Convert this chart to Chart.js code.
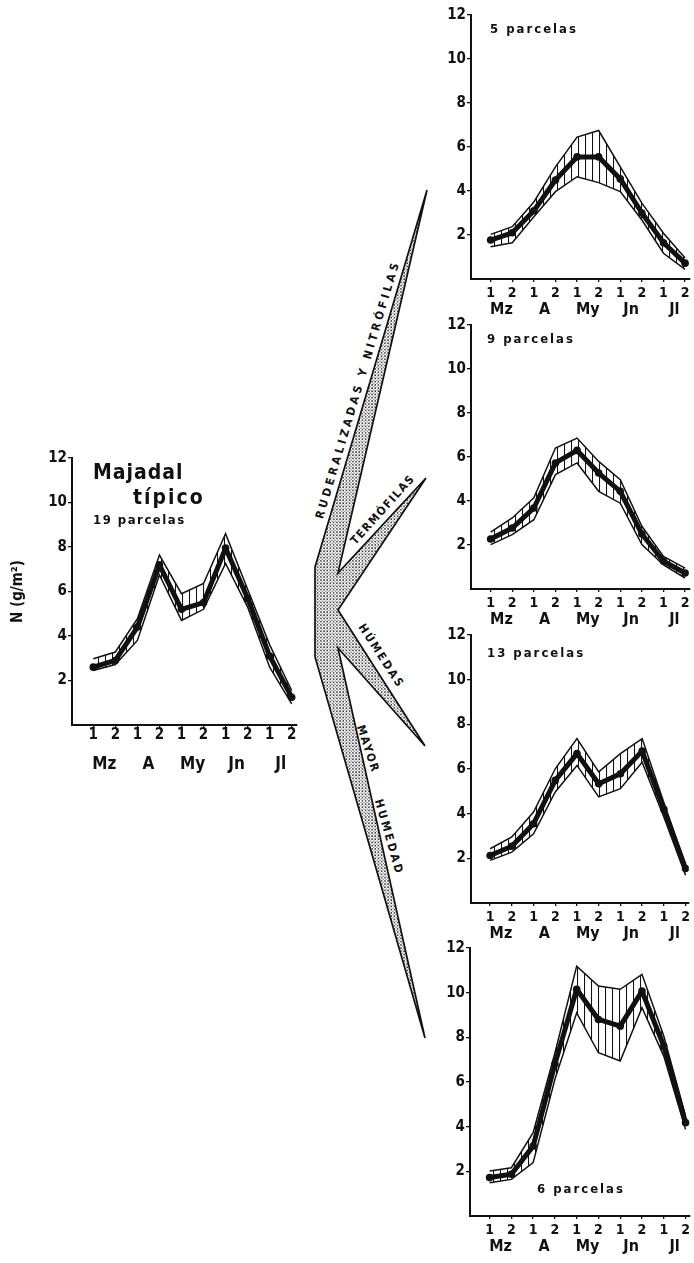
<!DOCTYPE html>
<html><head><meta charset="utf-8">
<script src="https://cdn.jsdelivr.net/npm/chart.js@4.4.0/dist/chart.umd.min.js"></script>
<style>
html,body{margin:0;padding:0;background:#fff;}
body{width:694px;height:1263px;position:relative;overflow:hidden;font-family:"DejaVu Sans Condensed","DejaVu Sans",sans-serif;}
canvas.cv{position:absolute;}
.lbl{position:absolute;font-weight:bold;color:#111;white-space:nowrap;line-height:1;transform:translateY(-50%);}
svg#branch{position:absolute;left:0;top:0;}
</style></head><body>

<svg id="branch" width="694" height="1263" viewBox="0 0 694 1263">
  <defs>
    <pattern id="dots" width="3.2" height="3.2" patternUnits="userSpaceOnUse">
      <circle cx="0.9" cy="0.9" r="0.8" fill="#222"/>
      <circle cx="2.5" cy="2.5" r="0.6" fill="#444"/>
    </pattern>
  </defs>
  <polygon points="315,567 427,190 338,573 426,478 338,610 425,746 338,648 425,1038 315,657"
    fill="url(#dots)" stroke="#111" stroke-width="1.7" stroke-linejoin="miter"/>
  <g font-family="DejaVu Sans Condensed, DejaVu Sans, sans-serif" font-weight="bold" font-size="11.5" fill="#111">
    <text x="357" y="391" transform="rotate(-73.4 357 391)" text-anchor="middle" dominant-baseline="central" textLength="266" lengthAdjust="spacing">RUDERALIZADAS Y NITRÓFILAS</text>
    <text x="382" y="510" transform="rotate(-48 382 510)" text-anchor="middle" dominant-baseline="central" textLength="88" lengthAdjust="spacing">TERMÓFILAS</text>
    <text x="381" y="655" transform="rotate(57 381 655)" text-anchor="middle" dominant-baseline="central" textLength="72" lengthAdjust="spacing">HÚMEDAS</text>
    <text x="368" y="748" transform="rotate(72 368 748)" text-anchor="middle" dominant-baseline="central" textLength="48" lengthAdjust="spacing">MAYOR</text>
    <text x="389" y="836" transform="rotate(74 389 836)" text-anchor="middle" dominant-baseline="central" textLength="76" lengthAdjust="spacing">HUMEDAD</text>
  </g>
</svg>

<canvas id="cTyp" class="cv" width="310" height="338" style="left:0;top:443px"></canvas>
<canvas id="cRud" class="cv" width="284" height="323" style="left:410px;top:0"></canvas>
<canvas id="cTer" class="cv" width="284" height="323" style="left:410px;top:310px"></canvas>
<canvas id="cHum" class="cv" width="284" height="327" style="left:410px;top:620px"></canvas>
<canvas id="cMay" class="cv" width="285" height="327" style="left:409px;top:933px"></canvas>

<div class="lbl" style="left:93px;top:472px;font-size:21px;letter-spacing:1px">Majadal</div>
<div class="lbl" style="left:133px;top:497px;font-size:21px;letter-spacing:2px">típico</div>
<div class="lbl" style="left:93px;top:519px;font-size:13px;letter-spacing:1.5px">19 parcelas</div>
<div class="lbl" style="left:490px;top:28px;font-size:13px;letter-spacing:2px">5 parcelas</div>
<div class="lbl" style="left:487px;top:338px;font-size:13px;letter-spacing:2px">9 parcelas</div>
<div class="lbl" style="left:487px;top:652px;font-size:13px;letter-spacing:2px">13 parcelas</div>
<div class="lbl" style="left:537px;top:1188px;font-size:13px;letter-spacing:2px">6 parcelas</div>

<script>
// ---- data ----
const halfMonths = ['1','2','1','2','1','2','1','2','1','2'];
const months = ['Mz','A','My','Jn','Jl'];
const yTicks = [2,4,6,8,10,12];

// Majadal típico (19 parcelas)
const typMean  = [2.6, 2.9, 4.4, 7.2, 5.2, 5.5, 7.95, 5.7, 3.1, 1.25];
const typUpper = [2.98,3.28,4.78,7.64,5.9, 6.36,8.6, 6.1, 3.6, 1.55];
const typLower = [2.45,2.72,3.8, 6.74,4.7, 5.2, 7.26,5.3, 2.6, 0.95];

// Ruderalizadas y nitrófilas (5 parcelas)
const rudMean  = [1.77,2.1, 3.1, 4.5, 5.55,5.55,4.55,3.0, 1.65,0.72];
const rudUpper = [2.03,2.38,3.5, 5.1, 6.45,6.75,5.1, 3.45,2.08,0.95];
const rudLower = [1.47,1.65,2.83,3.97,4.65,4.38,3.97,2.68,1.17,0.44];

// Termófilas (9 parcelas)
const terMean  = [2.27,2.77,3.68,5.73,6.3, 5.27,4.44,2.5, 1.26,0.73];
const terUpper = [2.58,3.23,4.14,6.41,6.86,5.8, 4.97,2.85,1.48,0.95];
const terLower = [2.02,2.47,3.15,5.2, 5.73,4.44,3.9, 2.02,1.1, 0.5];

// Húmedas (13 parcelas)
const humMean  = [2.13,2.54,3.55,5.49,6.69,5.34,5.79,6.8, 4.2, 1.54];
const humUpper = [2.43,2.96,4.07,6.01,7.36,5.87,6.69,7.36,4.5, 1.7];
const humLower = [1.91,2.28,3.1, 4.97,6.16,4.75,5.12,6.3, 3.85,1.24];

// Mayor humedad (6 parcelas)
const mayMean  = [1.72,1.87,3.13,6.8, 10.15,8.8, 8.5, 10.07,7.61,4.18];
const mayUpper = [2.01,2.16,3.73,7.3, 11.19,10.3,10.15,10.82,8.06,4.48];
const mayLower = [1.49,1.64,2.39,6.12,9.1,  7.31,6.94, 9.33, 7.16,3.88];

// ---- rendering ----
const FONT = '"DejaVu Sans Condensed","DejaVu Sans",sans-serif';
const INK = '#111';

const hatch = (() => {
  const c = document.createElement('canvas'); c.width = 7; c.height = 7;
  const g = c.getContext('2d');
  g.strokeStyle = INK; g.lineWidth = 1.1;
  g.beginPath(); g.moveTo(0.5, 0); g.lineTo(0.5, 7); g.stroke();
  return g.createPattern(c, 'repeat');
})();

const pts = arr => arr.map((v, i) => ({x: i, y: v}));

function makeChart(id, mean, upper, lower, g) {
  return new Chart(document.getElementById(id), {
    type: 'line',
    data: { datasets: [
      { data: pts(mean), xAxisID:'x', yAxisID:'y', borderColor: INK, borderWidth: 5,
        pointRadius: 3.8, pointBackgroundColor: INK, pointBorderWidth: 0, fill: false,
        borderJoinStyle: 'round', tension: 0 },
      { data: pts(upper), xAxisID:'x', yAxisID:'y', borderColor: INK, borderWidth: 1.5,
        pointRadius: 0, fill: '+1', backgroundColor: hatch, tension: 0 },
      { data: pts(lower), xAxisID:'x', yAxisID:'y', borderColor: INK, borderWidth: 1.5,
        pointRadius: 0, fill: false, tension: 0 }
    ]},
    options: {
      responsive: false, animation: false, devicePixelRatio: 1,
      layout: { padding: { top: g.padTop, right: g.padRight, bottom: 0, left: 0 } },
      plugins: { legend: { display: false }, tooltip: { enabled: false }, title: { display: false } },
      scales: {
        x: {
          type: 'linear', axis: 'x', position: 'bottom', min: g.xMin, max: g.xMax, weight: 0,
          afterBuildTicks: s => { s.ticks = halfMonths.map((_, i) => ({ value: i })); },
          afterFit: s => { s.height = g.xH; },
          ticks: { autoSkip: false, maxRotation: 0, padding: g.xPad, color: INK,
            font: { family: FONT, size: g.xFs, weight: 'bold', lineHeight: 1 },
            callback: v => halfMonths[v] },
          grid: { display: true, drawOnChartArea: false, drawTicks: true, tickLength: 3, color: INK, lineWidth: 1.3 },
          border: { display: true, color: INK, width: 2 }
        },
        m: {
          type: 'linear', axis: 'x', position: 'bottom', min: g.xMin, max: g.xMax, weight: 1,
          afterBuildTicks: s => { s.ticks = months.map((_, i) => ({ value: 2 * i + 0.5 })); },
          afterFit: s => { s.height = g.mH; },
          ticks: { autoSkip: false, maxRotation: 0, padding: g.mPad, color: INK,
            font: { family: FONT, size: g.mFs, weight: 'bold', lineHeight: 1 },
            callback: v => months[Math.round((v - 0.5) / 2)] },
          grid: { display: false, drawTicks: false, tickLength: 0 },
          border: { display: false }
        },
        y: {
          type: 'linear', position: 'left', min: 0, max: 12,
          afterBuildTicks: s => { s.ticks = yTicks.map(v => ({ value: v })); },
          afterFit: s => { s.width = g.yW; },
          ticks: { padding: 1, color: INK, font: { family: FONT, size: g.yFs, weight: 'bold', lineHeight: 1 } },
          grid: { display: true, drawOnChartArea: false, drawTicks: true, tickLength: 4, color: INK, lineWidth: 1.3 },
          border: { display: true, color: INK, width: 2 },
          title: g.yTitle ? { display: true, text: g.yTitle, color: INK, padding: { top: 11, bottom: 0 },
            font: { family: FONT, size: 15, weight: 'bold', lineHeight: 1 } } : { display: false }
        }
      }
    }
  });
}

const mainGeom  = { padTop: 15, padRight: 13, xMin: -0.966, xMax: 9.24, xH: 22, xPad: 0, xFs: 15,
                    mH: 34, mPad: 9, mFs: 17, yW: 72, yFs: 15, yTitle: 'N (g/m²)' };
const sideGeom  = { padTop: 15, padRight: 0, xMin: -0.909, xMax: 9.227, xH: 20, xPad: 4, xFs: 14,
                    mH: 24, mPad: 3, mFs: 16, yW: 61, yFs: 15 };

makeChart('cTyp', typMean, typUpper, typLower, mainGeom);
makeChart('cRud', rudMean, rudUpper, rudLower, sideGeom);
makeChart('cTer', terMean, terUpper, terLower, sideGeom);
makeChart('cHum', humMean, humUpper, humLower, Object.assign({}, sideGeom, { xMin: -0.88, xMax: 9.15 }));
makeChart('cMay', mayMean, mayUpper, mayLower, Object.assign({}, sideGeom, { yW: 61, xMin: -0.9, xMax: 9.2 }));
</script>
</body></html>
